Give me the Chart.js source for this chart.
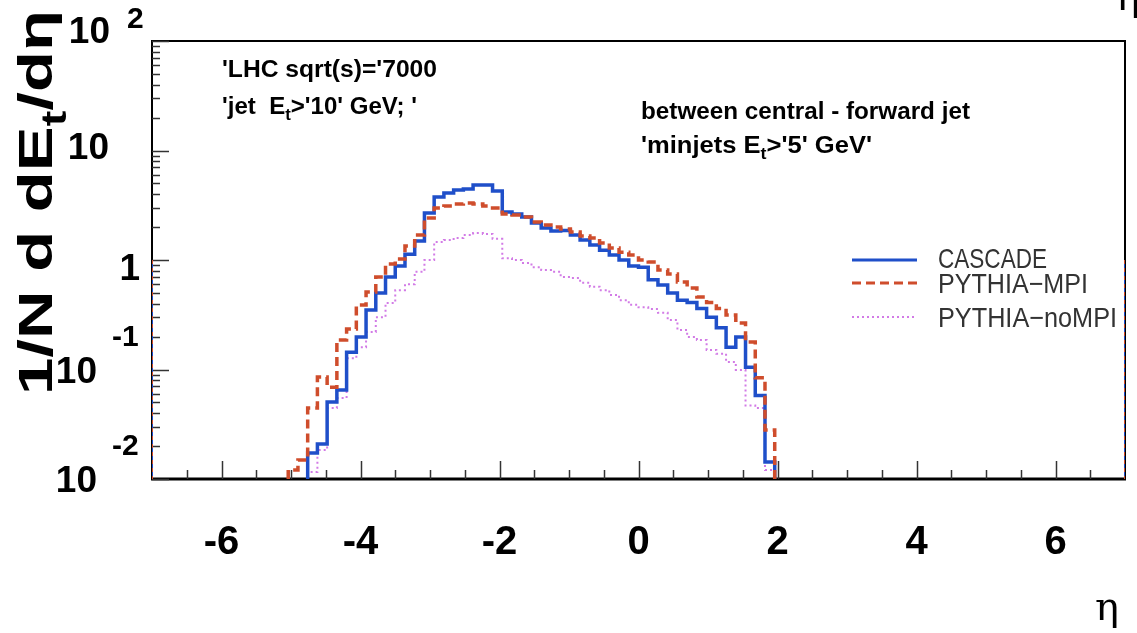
<!DOCTYPE html>
<html>
<head>
<meta charset="utf-8">
<script src="https://cdn.jsdelivr.net/npm/chart.js@4.4.0/dist/chart.umd.min.js"></script>
<style>
  html, body { margin: 0; padding: 0; background: #fff; }
  #wrap { width: 1137px; height: 633px; position: relative; }
</style>
</head>
<body>
<div id="wrap"><canvas id="etaChart" width="1137" height="633"></canvas></div>
<script>
// binning: 100 bins in eta from -7 to 7
const etaMin = -7;
const etaMax = 7;
const nBins = 100;
const yMin = 0.01;
const yMax = 100;

// bin contents, starting at the given bin index
const cascadeStart = 16;
const cascade = [0.0173, 0.0209, 0.0505, 0.065, 0.144, 0.198, 0.349, 0.50, 0.70, 0.88,
  1.13, 1.49, 2.69, 3.76, 4.09, 4.36, 4.45, 4.84, 4.84, 4.27,
  2.74, 2.63, 2.47, 2.18, 1.96, 1.84, 1.86, 1.69, 1.52, 1.37,
  1.23, 1.11, 1.00, 0.88, 0.86, 0.66, 0.59, 0.50, 0.43, 0.41,
  0.36, 0.30, 0.24, 0.16, 0.198, 0.105, 0.058, 0.0143];

const mpiStart = 14;
const pythiaMPI = [0.0121, 0.0149, 0.0445, 0.0855, 0.069, 0.186, 0.234, 0.388, 0.51, 0.70,
  0.92, 1.02, 1.34, 1.69, 2.42, 2.98, 3.11, 3.25, 3.32, 3.25,
  3.11, 2.98, 2.63, 2.58, 2.47, 2.22, 2.09, 2.00, 1.92, 1.80,
  1.66, 1.59, 1.43, 1.29, 1.18, 1.11, 1.00, 0.96, 0.81, 0.745,
  0.63, 0.555, 0.46, 0.41, 0.36, 0.315, 0.266, 0.178, 0.084, 0.028];

const noMpiStart = 16;
const pythiaNoMPI = [0.0116, 0.0184, 0.0445, 0.055, 0.127, 0.160, 0.22, 0.30, 0.405, 0.53,
  0.60, 0.78, 1.00, 1.46, 1.52, 1.59, 1.69, 1.76, 1.73, 1.56,
  1.04, 1.00, 0.94, 0.86, 0.81, 0.78, 0.70, 0.685, 0.62, 0.57,
  0.53, 0.48, 0.43, 0.39, 0.37, 0.357, 0.33, 0.283, 0.23, 0.198,
  0.186, 0.151, 0.139, 0.117, 0.099, 0.047, 0.0445, 0.0121];

// the vertical markers at both ends of the eta range
const edgeLevel = 1;

const seriesNames = ["CASCADE", "PYTHIA\u2212MPI", "PYTHIA\u2212noMPI"];
const xTickLabels = [-6, -4, -2, 0, 2, 4, 6];
const xMinorStep = 0.5;
const yDecades = [-2, -1, 0, 1, 2];

const BLUE = "#1f4fc9";
const RED = "#cf4d2c";
const VIOLET = "#d27be6";
const SANS = "'Liberation Sans', Arial, sans-serif";

// histogram outline as points on the bin edges (stepped line)
function histPoints(start, values) {
  const w = (etaMax - etaMin) / nBins;
  const pts = [{ x: etaMin + start * w, y: yMin }];
  values.forEach((v, i) => pts.push({ x: etaMin + (start + i) * w, y: v }));
  pts.push({ x: etaMin + (start + values.length) * w, y: yMin });
  return pts;
}

function edgePoints(x) {
  return [{ x: x, y: edgeLevel }, { x: x, y: yMin }];
}

const styles = [
  { color: BLUE, width: 3.5, dash: [] },
  { color: RED, width: 3.5, dash: [9, 5] },
  { color: VIOLET, width: 2, dash: [2, 3] }
];

function histDataset(label, pts, st, order) {
  return {
    label: label,
    data: pts,
    borderColor: st.color,
    borderWidth: st.width,
    borderDash: st.dash,
    stepped: true,
    pointRadius: 0,
    fill: false,
    order: order
  };
}

// draws text pieces (normal / subscript) left to right, optionally stretched to a given width
function richText(ctx, segs, x, y, size, opt) {
  opt = opt || {};
  const weight = opt.weight || "bold";
  const family = opt.family || SANS;
  let natural = 0;
  segs.forEach(([t, kind]) => {
    ctx.font = weight + " " + (kind === "sub" ? size * 0.7 : size) + "px " + family;
    natural += ctx.measureText(t).width;
  });
  const sx = opt.width ? opt.width / natural : 1;
  ctx.save();
  ctx.translate(x, y);
  if (opt.rotate) ctx.rotate(opt.rotate);
  ctx.scale(sx, opt.sy || 1);
  ctx.fillStyle = opt.color || "#000";
  ctx.textBaseline = "alphabetic";
  ctx.textAlign = "left";
  let cx = 0;
  segs.forEach(([t, kind]) => {
    const s = kind === "sub" ? size * 0.7 : size;
    ctx.font = weight + " " + s + "px " + family;
    ctx.fillText(t, cx, kind === "sub" ? size * 0.28 : 0);
    cx += ctx.measureText(t).width;
  });
  ctx.restore();
}

function label(ctx, t, x, y, size, align, weight) {
  ctx.font = (weight || "bold") + " " + size + "px " + SANS;
  ctx.textAlign = align;
  ctx.textBaseline = "middle";
  ctx.fillStyle = "#000";
  ctx.fillText(t, x, y);
}

const framePlugin = {
  id: "frame",
  beforeDatasetsDraw(chart) {
    const ctx = chart.ctx;
    const a = chart.chartArea;
    const xs = chart.scales.x, ys = chart.scales.y;
    ctx.save();
    ctx.strokeStyle = "#000";
    // frame
    ctx.lineWidth = 2;
    ctx.strokeRect(a.left, a.top, a.right - a.left, a.bottom - a.top);
    ctx.lineWidth = 3;
    ctx.beginPath();
    ctx.moveTo(a.left - 1, a.bottom);
    ctx.lineTo(a.right + 1, a.bottom);
    ctx.stroke();

    // x ticks pointing up from the bottom axis
    ctx.lineWidth = 1.5;
    ctx.strokeStyle = "#333";
    for (let v = etaMin + xMinorStep; v < etaMax - 1e-9; v += xMinorStep) {
      const px = Math.round(xs.getPixelForValue(v)) + 0.5;
      const major = xTickLabels.some(t => Math.abs(t - v) < 1e-9);
      ctx.beginPath();
      ctx.moveTo(px, a.bottom);
      ctx.lineTo(px, a.bottom - (major ? 18 : 9));
      ctx.stroke();
    }
    // y ticks pointing right from the left axis
    for (let e = yDecades[0]; e <= yDecades[yDecades.length - 1]; e++) {
      for (let m = 1; m <= 9; m++) {
        const v = m * Math.pow(10, e);
        if (v > yMax * 1.0001) continue;
        const py = Math.round(ys.getPixelForValue(v)) + 0.5;
        ctx.beginPath();
        ctx.moveTo(a.left, py);
        ctx.lineTo(a.left + (m === 1 ? 17 : 8), py);
        ctx.stroke();
      }
    }
    ctx.restore();
  },
  afterDraw(chart) {
    const ctx = chart.ctx;
    const xs = chart.scales.x, ys = chart.scales.y;
    ctx.save();

    // x tick labels
    xTickLabels.forEach(v => {
      label(ctx, String(v), xs.getPixelForValue(v), 543, 40, "center");
    });

    // y tick labels, ROOT style 10 with exponent
    yDecades.forEach(e => {
      const py = ys.getPixelForValue(Math.pow(10, e));
      if (e === 0) {
        label(ctx, "1", 140, py + 10, 37, "right");
      } else if (e === 1) {
        label(ctx, "10", 109, py - 2, 37, "right");
      } else if (e > 1) {
        label(ctx, "10", 110, py - 8, 37, "right");
        label(ctx, String(e), 127, py - 21, 30, "left");
      } else {
        label(ctx, "10", 97, py + 3, 37, "right");
        label(ctx, String(e), 112, py - 32, 30, "left");
      }
    });

    // axis titles
    richText(ctx, [["1/N d dE", "n"], ["t", "sub"], ["/d\u03b7", "n"]], 52, 395, 49,
      { rotate: -Math.PI / 2, width: 385 });
    ctx.font = "40px 'DejaVu Serif', serif";
    ctx.textAlign = "center";
    ctx.textBaseline = "alphabetic";
    ctx.fillStyle = "#000";
    ctx.fillText("\u03b7", 1107, 620);
    ctx.fillText("\u03b7", 1128, 10);

    // run info texts
    richText(ctx, [["'LHC sqrt(s)='7000", "n"]], 222, 77, 23, { width: 215 });
    richText(ctx, [["'jet  E", "n"], ["t", "sub"], [">'10' GeV; '", "n"]], 222, 114, 23, { width: 195 });
    richText(ctx, [["between central - forward jet", "n"]], 641, 119, 23, { width: 329 });
    richText(ctx, [["'minjets E", "n"], ["t", "sub"], [">'5' GeV'", "n"]], 641, 153, 23, { width: 231 });

    // legend
    const rows = [260, 283, 317];
    rows.forEach((ry, i) => {
      const st = styles[i];
      ctx.strokeStyle = st.color;
      ctx.lineWidth = st.width === 2 ? 2 : 3;
      ctx.setLineDash(st.dash);
      ctx.beginPath();
      ctx.moveTo(852, ry);
      ctx.lineTo(917, ry);
      ctx.stroke();
      ctx.setLineDash([]);
    });
    richText(ctx, [[seriesNames[0], "n"]], 938, 268, 28, { weight: "normal", width: 109, color: "#333" });
    richText(ctx, [[seriesNames[1], "n"]], 938, 293, 28, { weight: "normal", width: 150, color: "#333" });
    richText(ctx, [[seriesNames[2], "n"]], 938, 327, 28, { weight: "normal", width: 179, color: "#333" });

    ctx.restore();
  }
};

const datasets = [
  histDataset(seriesNames[0], histPoints(cascadeStart, cascade), styles[0], 1),
  histDataset(seriesNames[1], histPoints(mpiStart, pythiaMPI), styles[1], 0),
  histDataset(seriesNames[2], histPoints(noMpiStart, pythiaNoMPI), styles[2], 2),
  histDataset("edge-lo", edgePoints(etaMin), { color: BLUE, width: 2, dash: [] }, 4),
  histDataset("edge-lo-mpi", edgePoints(etaMin), { color: RED, width: 2, dash: [4, 4] }, 3),
  histDataset("edge-hi", edgePoints(etaMax), { color: BLUE, width: 2, dash: [] }, 4),
  histDataset("edge-hi-mpi", edgePoints(etaMax), { color: RED, width: 2, dash: [4, 4] }, 3)
];

new Chart(document.getElementById("etaChart"), {
  type: "line",
  data: { datasets: datasets },
  options: {
    responsive: false,
    animation: false,
    layout: { padding: { left: 152, right: 12, top: 41, bottom: 154 } },
    plugins: { legend: { display: false }, tooltip: { enabled: false } },
    scales: {
      x: { type: "linear", min: etaMin, max: etaMax, display: false },
      y: { type: "logarithmic", min: yMin, max: yMax, display: false }
    }
  },
  plugins: [framePlugin]
});
</script>
</body>
</html>
